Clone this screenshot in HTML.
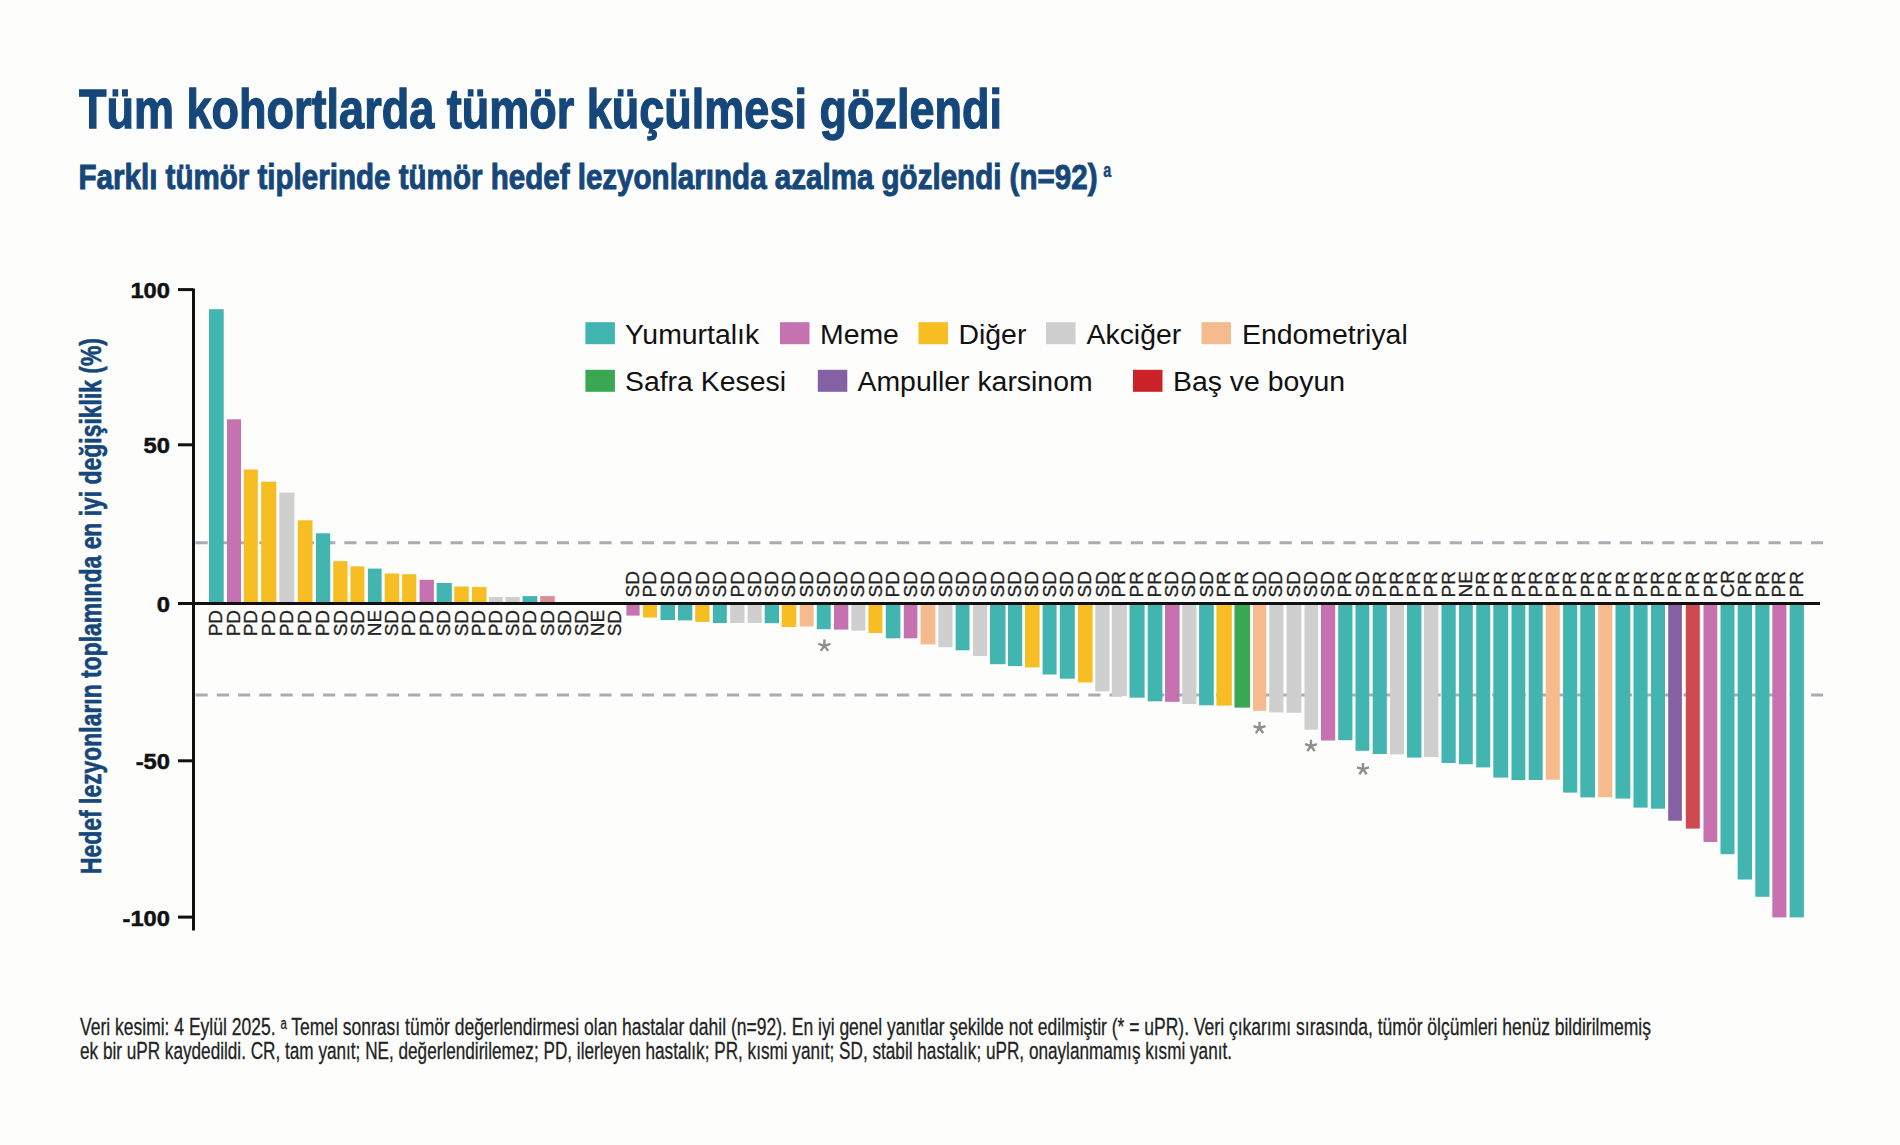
<!DOCTYPE html><html><head><meta charset="utf-8"><style>html,body{margin:0;padding:0;background:#fdfdfc;}svg{display:block}</style></head><body>
<svg width="1900" height="1145" viewBox="0 0 1900 1145">
<rect width="1900" height="1145" fill="#fdfdfc"/>
<text x="79" y="127.6" font-family="Liberation Sans, sans-serif" font-weight="bold" font-size="56.2" fill="#15477a" stroke="#15477a" stroke-width="1.3" textLength="923" lengthAdjust="spacingAndGlyphs">Tüm kohortlarda tümör küçülmesi gözlendi</text>
<text x="78.5" y="188.5" font-family="Liberation Sans, sans-serif" font-weight="bold" font-size="35.5" fill="#15477a" stroke="#15477a" stroke-width="1.0" textLength="1019" lengthAdjust="spacingAndGlyphs">Farklı tümör tiplerinde tümör hedef lezyonlarında azalma gözlendi (n=92)</text>
<text x="1103.3" y="176.8" font-family="Liberation Sans, sans-serif" font-weight="bold" font-size="20" fill="#15477a" stroke="#15477a" stroke-width="0.4" textLength="8" lengthAdjust="spacingAndGlyphs">a</text>
<text transform="translate(100.9,874) rotate(-90)" x="0" y="0" font-family="Liberation Sans, sans-serif" font-weight="bold" font-size="29" fill="#15477a" stroke="#15477a" stroke-width="0.6" textLength="536" lengthAdjust="spacingAndGlyphs">Hedef lezyonların toplamında en iyi değişiklik (%)</text>
<line x1="195.5" y1="542.8" x2="1823" y2="542.8" stroke="#a9adb3" stroke-width="3" stroke-dasharray="12.2 9.057"/>
<line x1="195.5" y1="695" x2="1823" y2="695" stroke="#a9adb3" stroke-width="3" stroke-dasharray="12.2 9.057"/>
<rect x="209.0" y="309.2" width="14.7" height="294.3" fill="#42b5b1"/>
<rect x="227.0" y="419.3" width="14.0" height="184.2" fill="#c672b0"/>
<rect x="243.9" y="469.5" width="13.9" height="134.0" fill="#f6be22"/>
<rect x="261.2" y="481.7" width="15.1" height="121.8" fill="#f6be22"/>
<rect x="279.3" y="492.6" width="15.1" height="110.9" fill="#cfcfcf"/>
<rect x="297.8" y="520.3" width="14.7" height="83.2" fill="#f6be22"/>
<rect x="315.9" y="533.3" width="14.3" height="70.2" fill="#42b5b1"/>
<rect x="333.2" y="561.1" width="14.3" height="42.4" fill="#f6be22"/>
<rect x="350.5" y="566.3" width="13.9" height="37.2" fill="#f6be22"/>
<rect x="367.9" y="568.6" width="13.7" height="34.9" fill="#42b5b1"/>
<rect x="384.7" y="573.5" width="14.5" height="30.0" fill="#f6be22"/>
<rect x="402.1" y="574.2" width="14.2" height="29.3" fill="#f6be22"/>
<rect x="419.6" y="579.8" width="14.3" height="23.7" fill="#c672b0"/>
<rect x="436.6" y="583.0" width="15.2" height="20.5" fill="#42b5b1"/>
<rect x="454.3" y="586.5" width="14.5" height="17.0" fill="#f6be22"/>
<rect x="472.0" y="587.0" width="14.5" height="16.5" fill="#f6be22"/>
<rect x="489.0" y="597.0" width="13.7" height="6.5" fill="#cfcfcf"/>
<rect x="505.6" y="597.0" width="14.2" height="6.5" fill="#cfcfcf"/>
<rect x="522.6" y="596.1" width="14.7" height="7.4" fill="#42b5b1"/>
<rect x="540.2" y="596.1" width="14.6" height="7.4" fill="#d98e98"/>
<rect x="626.4" y="603.5" width="13.2" height="12.1" fill="#c672b0"/>
<rect x="643.0" y="603.5" width="14.0" height="14.0" fill="#f6be22"/>
<rect x="660.5" y="603.5" width="14.5" height="16.5" fill="#42b5b1"/>
<rect x="678.0" y="603.5" width="14.3" height="16.9" fill="#42b5b1"/>
<rect x="695.2" y="603.5" width="14.3" height="18.4" fill="#f6be22"/>
<rect x="712.9" y="603.5" width="13.9" height="19.5" fill="#42b5b1"/>
<rect x="730.2" y="603.5" width="14.3" height="19.5" fill="#cfcfcf"/>
<rect x="747.6" y="603.5" width="14.2" height="19.5" fill="#cfcfcf"/>
<rect x="764.7" y="603.5" width="14.3" height="19.7" fill="#42b5b1"/>
<rect x="781.7" y="603.5" width="14.6" height="23.5" fill="#f6be22"/>
<rect x="799.7" y="603.5" width="13.9" height="23.0" fill="#f6bb8c"/>
<rect x="816.8" y="603.5" width="13.9" height="25.7" fill="#42b5b1"/>
<rect x="834.0" y="603.5" width="14.3" height="26.1" fill="#c672b0"/>
<rect x="851.4" y="603.5" width="13.9" height="27.2" fill="#cfcfcf"/>
<rect x="868.5" y="603.5" width="13.9" height="29.5" fill="#f6be22"/>
<rect x="885.8" y="603.5" width="14.6" height="34.8" fill="#42b5b1"/>
<rect x="903.8" y="603.5" width="13.6" height="34.8" fill="#c672b0"/>
<rect x="920.6" y="603.5" width="14.8" height="40.9" fill="#f6bb8c"/>
<rect x="938.3" y="603.5" width="14.2" height="43.7" fill="#cfcfcf"/>
<rect x="955.6" y="603.5" width="13.9" height="46.8" fill="#42b5b1"/>
<rect x="973.0" y="603.5" width="14.2" height="52.5" fill="#cfcfcf"/>
<rect x="990.0" y="603.5" width="15.5" height="60.7" fill="#42b5b1"/>
<rect x="1008.0" y="603.5" width="14.2" height="62.6" fill="#42b5b1"/>
<rect x="1025.0" y="603.5" width="14.6" height="63.9" fill="#f6be22"/>
<rect x="1042.6" y="603.5" width="14.0" height="71.0" fill="#42b5b1"/>
<rect x="1059.8" y="603.5" width="15.0" height="75.2" fill="#42b5b1"/>
<rect x="1078.0" y="603.5" width="14.6" height="78.9" fill="#f6be22"/>
<rect x="1095.3" y="603.5" width="14.2" height="87.9" fill="#cfcfcf"/>
<rect x="1111.8" y="603.5" width="15.1" height="92.6" fill="#cfcfcf"/>
<rect x="1129.5" y="603.5" width="15.1" height="94.2" fill="#42b5b1"/>
<rect x="1147.7" y="603.5" width="14.7" height="97.8" fill="#42b5b1"/>
<rect x="1165.0" y="603.5" width="14.6" height="98.3" fill="#c672b0"/>
<rect x="1182.2" y="603.5" width="14.2" height="100.5" fill="#cfcfcf"/>
<rect x="1199.1" y="603.5" width="14.7" height="101.8" fill="#42b5b1"/>
<rect x="1216.4" y="603.5" width="15.4" height="102.1" fill="#f6be22"/>
<rect x="1234.5" y="603.5" width="15.5" height="104.1" fill="#3aa853"/>
<rect x="1253.0" y="603.5" width="13.2" height="107.3" fill="#f6bb8c"/>
<rect x="1269.2" y="603.5" width="14.3" height="108.9" fill="#cfcfcf"/>
<rect x="1286.5" y="603.5" width="14.9" height="109.3" fill="#cfcfcf"/>
<rect x="1304.5" y="603.5" width="13.5" height="126.2" fill="#cfcfcf"/>
<rect x="1321.0" y="603.5" width="14.2" height="137.0" fill="#c672b0"/>
<rect x="1338.2" y="603.5" width="14.2" height="136.7" fill="#42b5b1"/>
<rect x="1355.5" y="603.5" width="13.8" height="147.3" fill="#42b5b1"/>
<rect x="1372.7" y="603.5" width="14.1" height="150.5" fill="#42b5b1"/>
<rect x="1390.0" y="603.5" width="14.0" height="150.9" fill="#cfcfcf"/>
<rect x="1407.0" y="603.5" width="14.4" height="154.1" fill="#42b5b1"/>
<rect x="1424.0" y="603.5" width="14.4" height="153.6" fill="#cfcfcf"/>
<rect x="1441.5" y="603.5" width="14.2" height="159.5" fill="#42b5b1"/>
<rect x="1459.0" y="603.5" width="13.8" height="160.7" fill="#42b5b1"/>
<rect x="1476.2" y="603.5" width="14.0" height="163.9" fill="#42b5b1"/>
<rect x="1493.3" y="603.5" width="14.9" height="174.1" fill="#42b5b1"/>
<rect x="1511.5" y="603.5" width="13.8" height="176.5" fill="#42b5b1"/>
<rect x="1528.7" y="603.5" width="14.0" height="176.5" fill="#42b5b1"/>
<rect x="1545.7" y="603.5" width="14.1" height="176.2" fill="#f6bb8c"/>
<rect x="1563.1" y="603.5" width="14.1" height="189.1" fill="#42b5b1"/>
<rect x="1580.3" y="603.5" width="14.7" height="193.9" fill="#42b5b1"/>
<rect x="1598.2" y="603.5" width="14.1" height="193.7" fill="#f6bb8c"/>
<rect x="1615.5" y="603.5" width="14.8" height="195.1" fill="#42b5b1"/>
<rect x="1633.5" y="603.5" width="14.1" height="204.1" fill="#42b5b1"/>
<rect x="1651.0" y="603.5" width="14.0" height="205.2" fill="#42b5b1"/>
<rect x="1668.2" y="603.5" width="13.7" height="217.2" fill="#8461a2"/>
<rect x="1685.8" y="603.5" width="14.0" height="225.1" fill="#cc4a50"/>
<rect x="1703.5" y="603.5" width="13.8" height="238.5" fill="#c672b0"/>
<rect x="1720.5" y="603.5" width="14.0" height="250.7" fill="#42b5b1"/>
<rect x="1737.7" y="603.5" width="14.3" height="276.0" fill="#42b5b1"/>
<rect x="1755.3" y="603.5" width="14.2" height="293.3" fill="#42b5b1"/>
<rect x="1772.3" y="603.5" width="14.1" height="313.9" fill="#c672b0"/>
<rect x="1789.7" y="603.5" width="14.2" height="313.9" fill="#42b5b1"/>
<rect x="192" y="288.5" width="3" height="642" fill="#111"/>
<rect x="192" y="602" width="1628" height="3" fill="#111"/>
<rect x="178" y="288.1" width="15" height="3" fill="#111"/>
<text x="170" y="298.2" text-anchor="end" font-family="Liberation Sans, sans-serif" font-weight="bold" font-size="22.6" fill="#111" stroke="#111" stroke-width="0.5" transform="translate(170,0) scale(1.05,1) translate(-170,0)">100</text>
<rect x="178" y="443.3" width="15" height="3" fill="#111"/>
<text x="170" y="453.4" text-anchor="end" font-family="Liberation Sans, sans-serif" font-weight="bold" font-size="22.6" fill="#111" stroke="#111" stroke-width="0.5" transform="translate(170,0) scale(1.05,1) translate(-170,0)">50</text>
<rect x="178" y="602.0" width="15" height="3" fill="#111"/>
<text x="170" y="612.1" text-anchor="end" font-family="Liberation Sans, sans-serif" font-weight="bold" font-size="22.6" fill="#111" stroke="#111" stroke-width="0.5" transform="translate(170,0) scale(1.05,1) translate(-170,0)">0</text>
<rect x="178" y="759.3" width="15" height="3" fill="#111"/>
<text x="170" y="769.4" text-anchor="end" font-family="Liberation Sans, sans-serif" font-weight="bold" font-size="22.6" fill="#111" stroke="#111" stroke-width="0.5" transform="translate(170,0) scale(1.05,1) translate(-170,0)">-50</text>
<rect x="178" y="915.6" width="15" height="3" fill="#111"/>
<text x="170" y="925.7" text-anchor="end" font-family="Liberation Sans, sans-serif" font-weight="bold" font-size="22.6" fill="#111" stroke="#111" stroke-width="0.5" transform="translate(170,0) scale(1.05,1) translate(-170,0)">-100</text>
<text transform="translate(222.4,636.3) rotate(-90)" font-family="Liberation Sans, sans-serif" font-size="19" fill="#222" stroke="#222" stroke-width="0.3">PD</text>
<text transform="translate(240.1,636.3) rotate(-90)" font-family="Liberation Sans, sans-serif" font-size="19" fill="#222" stroke="#222" stroke-width="0.3">PD</text>
<text transform="translate(257.0,636.3) rotate(-90)" font-family="Liberation Sans, sans-serif" font-size="19" fill="#222" stroke="#222" stroke-width="0.3">PD</text>
<text transform="translate(274.9,636.3) rotate(-90)" font-family="Liberation Sans, sans-serif" font-size="19" fill="#222" stroke="#222" stroke-width="0.3">PD</text>
<text transform="translate(293.0,636.3) rotate(-90)" font-family="Liberation Sans, sans-serif" font-size="19" fill="#222" stroke="#222" stroke-width="0.3">PD</text>
<text transform="translate(311.2,636.3) rotate(-90)" font-family="Liberation Sans, sans-serif" font-size="19" fill="#222" stroke="#222" stroke-width="0.3">PD</text>
<text transform="translate(329.1,636.3) rotate(-90)" font-family="Liberation Sans, sans-serif" font-size="19" fill="#222" stroke="#222" stroke-width="0.3">PD</text>
<text transform="translate(346.5,636.3) rotate(-90)" font-family="Liberation Sans, sans-serif" font-size="19" fill="#222" stroke="#222" stroke-width="0.3">SD</text>
<text transform="translate(363.6,636.3) rotate(-90)" font-family="Liberation Sans, sans-serif" font-size="19" fill="#222" stroke="#222" stroke-width="0.3">SD</text>
<text transform="translate(380.9,636.3) rotate(-90)" font-family="Liberation Sans, sans-serif" font-size="19" fill="#222" stroke="#222" stroke-width="0.3">NE</text>
<text transform="translate(398.1,636.3) rotate(-90)" font-family="Liberation Sans, sans-serif" font-size="19" fill="#222" stroke="#222" stroke-width="0.3">SD</text>
<text transform="translate(415.3,636.3) rotate(-90)" font-family="Liberation Sans, sans-serif" font-size="19" fill="#222" stroke="#222" stroke-width="0.3">PD</text>
<text transform="translate(432.9,636.3) rotate(-90)" font-family="Liberation Sans, sans-serif" font-size="19" fill="#222" stroke="#222" stroke-width="0.3">PD</text>
<text transform="translate(450.3,636.3) rotate(-90)" font-family="Liberation Sans, sans-serif" font-size="19" fill="#222" stroke="#222" stroke-width="0.3">SD</text>
<text transform="translate(467.7,636.3) rotate(-90)" font-family="Liberation Sans, sans-serif" font-size="19" fill="#222" stroke="#222" stroke-width="0.3">SD</text>
<text transform="translate(485.4,636.3) rotate(-90)" font-family="Liberation Sans, sans-serif" font-size="19" fill="#222" stroke="#222" stroke-width="0.3">PD</text>
<text transform="translate(502.0,636.3) rotate(-90)" font-family="Liberation Sans, sans-serif" font-size="19" fill="#222" stroke="#222" stroke-width="0.3">PD</text>
<text transform="translate(518.8,636.3) rotate(-90)" font-family="Liberation Sans, sans-serif" font-size="19" fill="#222" stroke="#222" stroke-width="0.3">SD</text>
<text transform="translate(536.1,636.3) rotate(-90)" font-family="Liberation Sans, sans-serif" font-size="19" fill="#222" stroke="#222" stroke-width="0.3">PD</text>
<text transform="translate(553.6,636.3) rotate(-90)" font-family="Liberation Sans, sans-serif" font-size="19" fill="#222" stroke="#222" stroke-width="0.3">SD</text>
<text transform="translate(571.1,636.3) rotate(-90)" font-family="Liberation Sans, sans-serif" font-size="19" fill="#222" stroke="#222" stroke-width="0.3">SD</text>
<text transform="translate(587.6,636.3) rotate(-90)" font-family="Liberation Sans, sans-serif" font-size="19" fill="#222" stroke="#222" stroke-width="0.3">SD</text>
<text transform="translate(603.6,636.3) rotate(-90)" font-family="Liberation Sans, sans-serif" font-size="19" fill="#222" stroke="#222" stroke-width="0.3">NE</text>
<text transform="translate(620.9,636.3) rotate(-90)" font-family="Liberation Sans, sans-serif" font-size="19" fill="#222" stroke="#222" stroke-width="0.3">SD</text>
<text transform="translate(639.1,597.5) rotate(-90)" font-family="Liberation Sans, sans-serif" font-size="19" fill="#222" stroke="#222" stroke-width="0.3">SD</text>
<text transform="translate(656.1,597.5) rotate(-90)" font-family="Liberation Sans, sans-serif" font-size="19" fill="#222" stroke="#222" stroke-width="0.3">PD</text>
<text transform="translate(673.9,597.5) rotate(-90)" font-family="Liberation Sans, sans-serif" font-size="19" fill="#222" stroke="#222" stroke-width="0.3">SD</text>
<text transform="translate(691.2,597.5) rotate(-90)" font-family="Liberation Sans, sans-serif" font-size="19" fill="#222" stroke="#222" stroke-width="0.3">SD</text>
<text transform="translate(708.5,597.5) rotate(-90)" font-family="Liberation Sans, sans-serif" font-size="19" fill="#222" stroke="#222" stroke-width="0.3">SD</text>
<text transform="translate(725.9,597.5) rotate(-90)" font-family="Liberation Sans, sans-serif" font-size="19" fill="#222" stroke="#222" stroke-width="0.3">SD</text>
<text transform="translate(743.5,597.5) rotate(-90)" font-family="Liberation Sans, sans-serif" font-size="19" fill="#222" stroke="#222" stroke-width="0.3">PD</text>
<text transform="translate(760.8,597.5) rotate(-90)" font-family="Liberation Sans, sans-serif" font-size="19" fill="#222" stroke="#222" stroke-width="0.3">SD</text>
<text transform="translate(778.0,597.5) rotate(-90)" font-family="Liberation Sans, sans-serif" font-size="19" fill="#222" stroke="#222" stroke-width="0.3">SD</text>
<text transform="translate(795.1,597.5) rotate(-90)" font-family="Liberation Sans, sans-serif" font-size="19" fill="#222" stroke="#222" stroke-width="0.3">SD</text>
<text transform="translate(812.8,597.5) rotate(-90)" font-family="Liberation Sans, sans-serif" font-size="19" fill="#222" stroke="#222" stroke-width="0.3">SD</text>
<text transform="translate(829.9,597.5) rotate(-90)" font-family="Liberation Sans, sans-serif" font-size="19" fill="#222" stroke="#222" stroke-width="0.3">SD</text>
<text transform="translate(847.2,597.5) rotate(-90)" font-family="Liberation Sans, sans-serif" font-size="19" fill="#222" stroke="#222" stroke-width="0.3">SD</text>
<text transform="translate(864.4,597.5) rotate(-90)" font-family="Liberation Sans, sans-serif" font-size="19" fill="#222" stroke="#222" stroke-width="0.3">SD</text>
<text transform="translate(881.6,597.5) rotate(-90)" font-family="Liberation Sans, sans-serif" font-size="19" fill="#222" stroke="#222" stroke-width="0.3">SD</text>
<text transform="translate(899.2,597.5) rotate(-90)" font-family="Liberation Sans, sans-serif" font-size="19" fill="#222" stroke="#222" stroke-width="0.3">PD</text>
<text transform="translate(916.7,597.5) rotate(-90)" font-family="Liberation Sans, sans-serif" font-size="19" fill="#222" stroke="#222" stroke-width="0.3">SD</text>
<text transform="translate(934.1,597.5) rotate(-90)" font-family="Liberation Sans, sans-serif" font-size="19" fill="#222" stroke="#222" stroke-width="0.3">SD</text>
<text transform="translate(951.5,597.5) rotate(-90)" font-family="Liberation Sans, sans-serif" font-size="19" fill="#222" stroke="#222" stroke-width="0.3">SD</text>
<text transform="translate(968.6,597.5) rotate(-90)" font-family="Liberation Sans, sans-serif" font-size="19" fill="#222" stroke="#222" stroke-width="0.3">SD</text>
<text transform="translate(986.2,597.5) rotate(-90)" font-family="Liberation Sans, sans-serif" font-size="19" fill="#222" stroke="#222" stroke-width="0.3">SD</text>
<text transform="translate(1003.9,597.5) rotate(-90)" font-family="Liberation Sans, sans-serif" font-size="19" fill="#222" stroke="#222" stroke-width="0.3">SD</text>
<text transform="translate(1021.2,597.5) rotate(-90)" font-family="Liberation Sans, sans-serif" font-size="19" fill="#222" stroke="#222" stroke-width="0.3">SD</text>
<text transform="translate(1038.4,597.5) rotate(-90)" font-family="Liberation Sans, sans-serif" font-size="19" fill="#222" stroke="#222" stroke-width="0.3">SD</text>
<text transform="translate(1055.7,597.5) rotate(-90)" font-family="Liberation Sans, sans-serif" font-size="19" fill="#222" stroke="#222" stroke-width="0.3">SD</text>
<text transform="translate(1073.4,597.5) rotate(-90)" font-family="Liberation Sans, sans-serif" font-size="19" fill="#222" stroke="#222" stroke-width="0.3">SD</text>
<text transform="translate(1091.4,597.5) rotate(-90)" font-family="Liberation Sans, sans-serif" font-size="19" fill="#222" stroke="#222" stroke-width="0.3">SD</text>
<text transform="translate(1108.5,597.5) rotate(-90)" font-family="Liberation Sans, sans-serif" font-size="19" fill="#222" stroke="#222" stroke-width="0.3">SD</text>
<text transform="translate(1125.4,597.5) rotate(-90)" font-family="Liberation Sans, sans-serif" font-size="19" fill="#222" stroke="#222" stroke-width="0.3">PR</text>
<text transform="translate(1143.1,597.5) rotate(-90)" font-family="Liberation Sans, sans-serif" font-size="19" fill="#222" stroke="#222" stroke-width="0.3">PR</text>
<text transform="translate(1161.2,597.5) rotate(-90)" font-family="Liberation Sans, sans-serif" font-size="19" fill="#222" stroke="#222" stroke-width="0.3">PR</text>
<text transform="translate(1178.4,597.5) rotate(-90)" font-family="Liberation Sans, sans-serif" font-size="19" fill="#222" stroke="#222" stroke-width="0.3">SD</text>
<text transform="translate(1195.4,597.5) rotate(-90)" font-family="Liberation Sans, sans-serif" font-size="19" fill="#222" stroke="#222" stroke-width="0.3">SD</text>
<text transform="translate(1212.5,597.5) rotate(-90)" font-family="Liberation Sans, sans-serif" font-size="19" fill="#222" stroke="#222" stroke-width="0.3">SD</text>
<text transform="translate(1230.2,597.5) rotate(-90)" font-family="Liberation Sans, sans-serif" font-size="19" fill="#222" stroke="#222" stroke-width="0.3">PR</text>
<text transform="translate(1248.3,597.5) rotate(-90)" font-family="Liberation Sans, sans-serif" font-size="19" fill="#222" stroke="#222" stroke-width="0.3">PR</text>
<text transform="translate(1265.7,597.5) rotate(-90)" font-family="Liberation Sans, sans-serif" font-size="19" fill="#222" stroke="#222" stroke-width="0.3">SD</text>
<text transform="translate(1282.4,597.5) rotate(-90)" font-family="Liberation Sans, sans-serif" font-size="19" fill="#222" stroke="#222" stroke-width="0.3">SD</text>
<text transform="translate(1300.0,597.5) rotate(-90)" font-family="Liberation Sans, sans-serif" font-size="19" fill="#222" stroke="#222" stroke-width="0.3">SD</text>
<text transform="translate(1317.3,597.5) rotate(-90)" font-family="Liberation Sans, sans-serif" font-size="19" fill="#222" stroke="#222" stroke-width="0.3">SD</text>
<text transform="translate(1334.2,597.5) rotate(-90)" font-family="Liberation Sans, sans-serif" font-size="19" fill="#222" stroke="#222" stroke-width="0.3">SD</text>
<text transform="translate(1351.4,597.5) rotate(-90)" font-family="Liberation Sans, sans-serif" font-size="19" fill="#222" stroke="#222" stroke-width="0.3">PR</text>
<text transform="translate(1368.5,597.5) rotate(-90)" font-family="Liberation Sans, sans-serif" font-size="19" fill="#222" stroke="#222" stroke-width="0.3">SD</text>
<text transform="translate(1385.8,597.5) rotate(-90)" font-family="Liberation Sans, sans-serif" font-size="19" fill="#222" stroke="#222" stroke-width="0.3">PR</text>
<text transform="translate(1403.1,597.5) rotate(-90)" font-family="Liberation Sans, sans-serif" font-size="19" fill="#222" stroke="#222" stroke-width="0.3">PR</text>
<text transform="translate(1420.3,597.5) rotate(-90)" font-family="Liberation Sans, sans-serif" font-size="19" fill="#222" stroke="#222" stroke-width="0.3">PR</text>
<text transform="translate(1437.3,597.5) rotate(-90)" font-family="Liberation Sans, sans-serif" font-size="19" fill="#222" stroke="#222" stroke-width="0.3">PR</text>
<text transform="translate(1454.7,597.5) rotate(-90)" font-family="Liberation Sans, sans-serif" font-size="19" fill="#222" stroke="#222" stroke-width="0.3">PR</text>
<text transform="translate(1472.0,597.5) rotate(-90)" font-family="Liberation Sans, sans-serif" font-size="19" fill="#222" stroke="#222" stroke-width="0.3">NE</text>
<text transform="translate(1489.3,597.5) rotate(-90)" font-family="Liberation Sans, sans-serif" font-size="19" fill="#222" stroke="#222" stroke-width="0.3">PR</text>
<text transform="translate(1506.8,597.5) rotate(-90)" font-family="Liberation Sans, sans-serif" font-size="19" fill="#222" stroke="#222" stroke-width="0.3">PR</text>
<text transform="translate(1524.5,597.5) rotate(-90)" font-family="Liberation Sans, sans-serif" font-size="19" fill="#222" stroke="#222" stroke-width="0.3">PR</text>
<text transform="translate(1541.8,597.5) rotate(-90)" font-family="Liberation Sans, sans-serif" font-size="19" fill="#222" stroke="#222" stroke-width="0.3">PR</text>
<text transform="translate(1558.8,597.5) rotate(-90)" font-family="Liberation Sans, sans-serif" font-size="19" fill="#222" stroke="#222" stroke-width="0.3">PR</text>
<text transform="translate(1576.2,597.5) rotate(-90)" font-family="Liberation Sans, sans-serif" font-size="19" fill="#222" stroke="#222" stroke-width="0.3">PR</text>
<text transform="translate(1593.8,597.5) rotate(-90)" font-family="Liberation Sans, sans-serif" font-size="19" fill="#222" stroke="#222" stroke-width="0.3">PR</text>
<text transform="translate(1611.3,597.5) rotate(-90)" font-family="Liberation Sans, sans-serif" font-size="19" fill="#222" stroke="#222" stroke-width="0.3">PR</text>
<text transform="translate(1629.0,597.5) rotate(-90)" font-family="Liberation Sans, sans-serif" font-size="19" fill="#222" stroke="#222" stroke-width="0.3">PR</text>
<text transform="translate(1646.6,597.5) rotate(-90)" font-family="Liberation Sans, sans-serif" font-size="19" fill="#222" stroke="#222" stroke-width="0.3">PR</text>
<text transform="translate(1664.1,597.5) rotate(-90)" font-family="Liberation Sans, sans-serif" font-size="19" fill="#222" stroke="#222" stroke-width="0.3">PR</text>
<text transform="translate(1681.2,597.5) rotate(-90)" font-family="Liberation Sans, sans-serif" font-size="19" fill="#222" stroke="#222" stroke-width="0.3">PR</text>
<text transform="translate(1698.9,597.5) rotate(-90)" font-family="Liberation Sans, sans-serif" font-size="19" fill="#222" stroke="#222" stroke-width="0.3">PR</text>
<text transform="translate(1716.5,597.5) rotate(-90)" font-family="Liberation Sans, sans-serif" font-size="19" fill="#222" stroke="#222" stroke-width="0.3">PR</text>
<text transform="translate(1733.6,597.5) rotate(-90)" font-family="Liberation Sans, sans-serif" font-size="19" fill="#222" stroke="#222" stroke-width="0.3">CR</text>
<text transform="translate(1750.9,597.5) rotate(-90)" font-family="Liberation Sans, sans-serif" font-size="19" fill="#222" stroke="#222" stroke-width="0.3">PR</text>
<text transform="translate(1768.5,597.5) rotate(-90)" font-family="Liberation Sans, sans-serif" font-size="19" fill="#222" stroke="#222" stroke-width="0.3">PR</text>
<text transform="translate(1785.4,597.5) rotate(-90)" font-family="Liberation Sans, sans-serif" font-size="19" fill="#222" stroke="#222" stroke-width="0.3">PR</text>
<text transform="translate(1802.9,597.5) rotate(-90)" font-family="Liberation Sans, sans-serif" font-size="19" fill="#222" stroke="#222" stroke-width="0.3">PR</text>
<path d="M824.4 645.8L824.4 639.5M824.4 645.8L830.4 643.9M824.4 645.8L828.1 650.9M824.4 645.8L820.7 650.9M824.4 645.8L818.4 643.9" stroke="#8f8f8f" stroke-width="2.4" stroke-linecap="butt" fill="none"/>
<path d="M1259.5 728.0L1259.5 721.7M1259.5 728.0L1265.5 726.1M1259.5 728.0L1263.2 733.1M1259.5 728.0L1255.8 733.1M1259.5 728.0L1253.5 726.1" stroke="#8f8f8f" stroke-width="2.4" stroke-linecap="butt" fill="none"/>
<path d="M1311.0 746.0L1311.0 739.7M1311.0 746.0L1317.0 744.1M1311.0 746.0L1314.7 751.1M1311.0 746.0L1307.3 751.1M1311.0 746.0L1305.0 744.1" stroke="#8f8f8f" stroke-width="2.4" stroke-linecap="butt" fill="none"/>
<path d="M1363.0 769.2L1363.0 762.9M1363.0 769.2L1369.0 767.3M1363.0 769.2L1366.7 774.3M1363.0 769.2L1359.3 774.3M1363.0 769.2L1357.0 767.3" stroke="#8f8f8f" stroke-width="2.4" stroke-linecap="butt" fill="none"/>
<rect x="585.4" y="322.2" width="29.5" height="22" fill="#42b5b1"/>
<text x="625.0" y="343.5" font-family="Liberation Sans, sans-serif" font-size="28.4" fill="#111">Yumurtalık</text>
<rect x="780.0" y="322.2" width="29.5" height="22" fill="#c672b0"/>
<text x="820.0" y="343.5" font-family="Liberation Sans, sans-serif" font-size="28.4" fill="#111">Meme</text>
<rect x="918.5" y="322.2" width="29.5" height="22" fill="#f6be22"/>
<text x="958.5" y="343.5" font-family="Liberation Sans, sans-serif" font-size="28.4" fill="#111">Diğer</text>
<rect x="1046.0" y="322.2" width="29.5" height="22" fill="#cfcfcf"/>
<text x="1086.5" y="343.5" font-family="Liberation Sans, sans-serif" font-size="28.4" fill="#111">Akciğer</text>
<rect x="1201.5" y="322.2" width="29.5" height="22" fill="#f6bb8c"/>
<text x="1242.0" y="343.5" font-family="Liberation Sans, sans-serif" font-size="28.4" fill="#111">Endometriyal</text>
<rect x="585.4" y="369.8" width="29.5" height="22" fill="#3aa853"/>
<text x="625.0" y="391.1" font-family="Liberation Sans, sans-serif" font-size="28.4" fill="#111">Safra Kesesi</text>
<rect x="817.8" y="369.8" width="29.5" height="22" fill="#8461a2"/>
<text x="857.5" y="391.1" font-family="Liberation Sans, sans-serif" font-size="28.4" fill="#111">Ampuller karsinom</text>
<rect x="1133.0" y="369.8" width="29.5" height="22" fill="#cc2229"/>
<text x="1173.0" y="391.1" font-family="Liberation Sans, sans-serif" font-size="28.4" fill="#111">Baş ve boyun</text>
<text x="80" y="1034.8" font-family="Liberation Sans, sans-serif" font-size="24.5" fill="#222" stroke="#222" stroke-width="0.3" textLength="1571" lengthAdjust="spacingAndGlyphs">Veri kesimi: 4 Eylül 2025. <tspan font-size="16" baseline-shift="6">a</tspan> Temel sonrası tümör değerlendirmesi olan hastalar dahil (n=92). En iyi genel yanıtlar şekilde not edilmiştir (* = uPR). Veri çıkarımı sırasında, tümör ölçümleri henüz bildirilmemiş</text>
<text x="80" y="1059.2" font-family="Liberation Sans, sans-serif" font-size="24.5" fill="#222" stroke="#222" stroke-width="0.3" textLength="1152" lengthAdjust="spacingAndGlyphs">ek bir uPR kaydedildi. CR, tam yanıt; NE, değerlendirilemez; PD, ilerleyen hastalık; PR, kısmi yanıt; SD, stabil hastalık; uPR, onaylanmamış kısmi yanıt.</text>
</svg></body></html>
